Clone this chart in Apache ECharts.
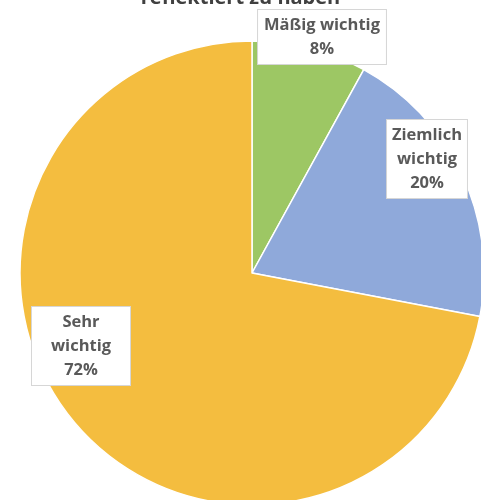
<!DOCTYPE html>
<html>
<head>
<meta charset="utf-8">
<script src="https://cdn.jsdelivr.net/npm/echarts@6/dist/echarts.min.js"></script>
<style>
  html, body { margin: 0; padding: 0; background: #ffffff; }
  #chart { width: 481px; height: 500px; }
</style>
</head>
<body>
<div id="chart"></div>
<script>
// Anteile der Antworten
const categories = ['Mäßig wichtig', 'Ziemlich wichtig', 'Sehr wichtig'];
const shares = [8, 20, 72];
const sliceColors = ['#9DC764', '#8FA9DA', '#F4BD3F'];

// Centre point and inner padding of each label box
const labelCentres = [[322, 37], [427, 159], [81, 346]];
const labelPadding = [[3, 6], [3, 5], [3, 19]];
// Answers whose label is stacked one word per line
const stacked = [false, true, true];

const chart = echarts.init(document.getElementById('chart'), null, { renderer: 'canvas' });

const font = '"Open Sans", sans-serif';

chart.setOption({
  backgroundColor: '#ffffff',
  animation: false,
  title: {
    text: 'reflektiert zu haben',
    left: 'center',
    top: -17,
    textStyle: { fontFamily: font, fontWeight: 700, fontSize: 20, color: '#404040' }
  },
  series: [{
    type: 'pie',
    center: [252, 273],
    radius: [0, 232],
    startAngle: 90,
    clockwise: true,
    itemStyle: { borderColor: '#ffffff', borderWidth: 1.5 },
    labelLine: { show: false },
    label: {
      show: true,
      position: 'inside',
      formatter: function (p) {
        const name = stacked[p.dataIndex] ? p.name.replace(' ', '\n') : p.name;
        return name + '\n' + p.percent + '%';
      },
      fontFamily: font,
      fontWeight: 700,
      fontSize: 16.5,
      lineHeight: 24,
      color: '#595959',
      align: 'center',
      backgroundColor: '#ffffff',
      borderColor: '#d6d6d6',
      borderWidth: 1
    },
    labelLayout: function (params) {
      const c = labelCentres[params.dataIndex];
      return { x: c[0], y: c[1], align: 'center', verticalAlign: 'middle' };
    },
    data: categories.map(function (name, i) {
      return {
        name: name,
        value: shares[i],
        itemStyle: { color: sliceColors[i] },
        label: { padding: labelPadding[i] }
      };
    })
  }]
});
</script>
</body>
</html>
